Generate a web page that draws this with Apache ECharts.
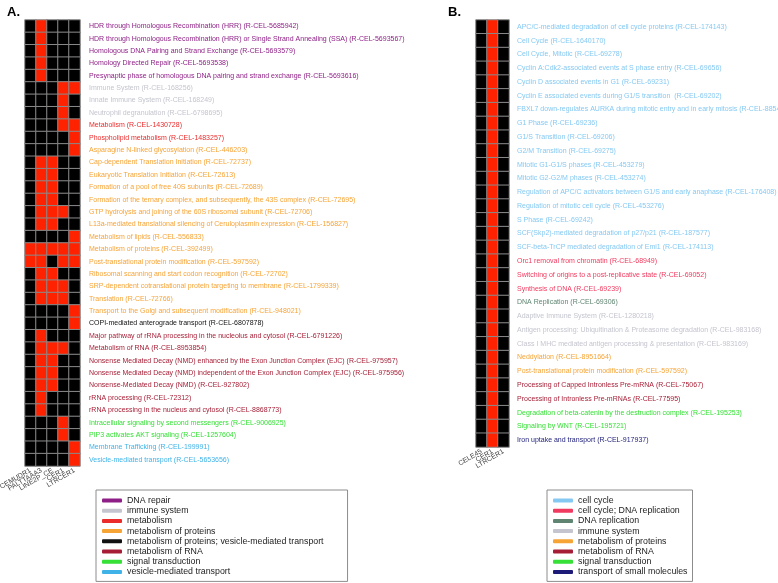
<!DOCTYPE html>
<html>
<head>
<meta charset="utf-8">
<script src="https://cdn.jsdelivr.net/npm/echarts@6/dist/echarts.min.js"></script>
<style>html,body{margin:0;padding:0;background:#fff}#c{width:778px;height:583px}</style>
</head>
<body>
<div id="c"></div>
<script>
// ---------- Panel A data ----------
const colsA = ['CEMUDR1', 'PALTTAAA3', 'LINE2P_CE', 'CER1', 'LTRCER1'];
const rowsA = [
  'HDR through Homologous Recombination (HRR) (R-CEL-5685942)',
  'HDR through Homologous Recombination (HRR) or Single Strand Annealing (SSA) (R-CEL-5693567)',
  'Homologous DNA Pairing and Strand Exchange (R-CEL-5693579)',
  'Homology Directed Repair (R-CEL-5693538)',
  'Presynaptic phase of homologous DNA pairing and strand exchange (R-CEL-5693616)',
  'Immune System (R-CEL-168256)',
  'Innate Immune System (R-CEL-168249)',
  'Neutrophil degranulation (R-CEL-6798695)',
  'Metabolism (R-CEL-1430728)',
  'Phospholipid metabolism (R-CEL-1483257)',
  'Asparagine N-linked glycosylation (R-CEL-446203)',
  'Cap-dependent Translation Initiation (R-CEL-72737)',
  'Eukaryotic Translation Initiation (R-CEL-72613)',
  'Formation of a pool of free 40S subunits (R-CEL-72689)',
  'Formation of the ternary complex, and subsequently, the 43S complex (R-CEL-72695)',
  'GTP hydrolysis and joining of the 60S ribosomal subunit (R-CEL-72706)',
  'L13a-mediated translational silencing of Ceruloplasmin expression (R-CEL-156827)',
  'Metabolism of lipids (R-CEL-556833)',
  'Metabolism of proteins (R-CEL-392499)',
  'Post-translational protein modification (R-CEL-597592)',
  'Ribosomal scanning and start codon recognition (R-CEL-72702)',
  'SRP-dependent cotranslational protein targeting to membrane (R-CEL-1799339)',
  'Translation (R-CEL-72766)',
  'Transport to the Golgi and subsequent modification (R-CEL-948021)',
  'COPI-mediated anterograde transport (R-CEL-6807878)',
  'Major pathway of rRNA processing in the nucleolus and cytosol (R-CEL-6791226)',
  'Metabolism of RNA (R-CEL-8953854)',
  'Nonsense Mediated Decay (NMD) enhanced by the Exon Junction Complex (EJC) (R-CEL-975957)',
  'Nonsense Mediated Decay (NMD) independent of the Exon Junction Complex (EJC) (R-CEL-975956)',
  'Nonsense-Mediated Decay (NMD) (R-CEL-927802)',
  'rRNA processing (R-CEL-72312)',
  'rRNA processing in the nucleus and cytosol (R-CEL-8868773)',
  'Intracellular signaling by second messengers (R-CEL-9006925)',
  'PIP3 activates AKT signaling (R-CEL-1257604)',
  'Membrane Trafficking (R-CEL-199991)',
  'Vesicle-mediated transport (R-CEL-5653656)'
];
const groupA = [
  'DNA repair','DNA repair','DNA repair','DNA repair','DNA repair',
  'immune system','immune system','immune system',
  'metabolism','metabolism',
  'metabolism of proteins','metabolism of proteins','metabolism of proteins','metabolism of proteins',
  'metabolism of proteins','metabolism of proteins','metabolism of proteins','metabolism of proteins',
  'metabolism of proteins','metabolism of proteins','metabolism of proteins','metabolism of proteins',
  'metabolism of proteins','metabolism of proteins',
  'metabolism of proteins; vesicle-mediated transport',
  'metabolism of RNA','metabolism of RNA','metabolism of RNA','metabolism of RNA',
  'metabolism of RNA','metabolism of RNA','metabolism of RNA',
  'signal transduction','signal transduction',
  'vesicle-mediated transport','vesicle-mediated transport'
];
// 1 = enriched (red), 0 = not (black); one row per pathway, one column per element
const valuesA = [
  [0,1,0,0,0],[0,1,0,0,0],[0,1,0,0,0],[0,1,0,0,0],[0,1,0,0,0],
  [0,0,0,1,1],[0,0,0,1,0],[0,0,0,1,0],[0,0,0,1,1],[0,0,0,0,1],
  [0,0,0,0,1],[0,1,1,0,0],[0,1,1,0,0],[0,1,1,0,0],[0,1,1,0,0],
  [0,1,1,1,0],[0,1,1,0,0],[0,0,0,0,1],[1,1,1,1,1],[1,1,0,1,1],
  [0,1,1,0,0],[0,1,1,1,0],[0,1,1,1,0],[0,0,0,0,1],[0,0,0,0,1],
  [0,1,0,0,0],[0,1,1,1,0],[0,1,1,0,0],[0,1,1,0,0],[0,1,1,0,0],
  [0,1,0,0,0],[0,1,0,0,0],[0,0,0,1,0],[0,0,0,1,0],[0,0,0,0,1],
  [0,0,0,0,1]
];

// ---------- Panel B data ----------
const colsB = ['CELE45', 'CER1', 'LTRCER1'];
const rowsB = [
  'APC/C-mediated degradation of cell cycle proteins (R-CEL-174143)',
  'Cell Cycle (R-CEL-1640170)',
  'Cell Cycle, Mitotic (R-CEL-69278)',
  'Cyclin A:Cdk2-associated events at S phase entry (R-CEL-69656)',
  'Cyclin D associated events in G1 (R-CEL-69231)',
  'Cyclin E associated events during G1/S transition  (R-CEL-69202)',
  'FBXL7 down-regulates AURKA during mitotic entry and in early mitosis (R-CEL-8854050)',
  'G1 Phase (R-CEL-69236)',
  'G1/S Transition (R-CEL-69206)',
  'G2/M Transition (R-CEL-69275)',
  'Mitotic G1-G1/S phases (R-CEL-453279)',
  'Mitotic G2-G2/M phases (R-CEL-453274)',
  'Regulation of APC/C activators between G1/S and early anaphase (R-CEL-176408)',
  'Regulation of mitotic cell cycle (R-CEL-453276)',
  'S Phase (R-CEL-69242)',
  'SCF(Skp2)-mediated degradation of p27/p21 (R-CEL-187577)',
  'SCF-beta-TrCP mediated degradation of Emi1 (R-CEL-174113)',
  'Orc1 removal from chromatin (R-CEL-68949)',
  'Switching of origins to a post-replicative state (R-CEL-69052)',
  'Synthesis of DNA (R-CEL-69239)',
  'DNA Replication (R-CEL-69306)',
  'Adaptive Immune System (R-CEL-1280218)',
  'Antigen processing: Ubiquitination & Proteasome degradation (R-CEL-983168)',
  'Class I MHC mediated antigen processing & presentation (R-CEL-983169)',
  'Neddylation (R-CEL-8951664)',
  'Post-translational protein modification (R-CEL-597592)',
  'Processing of Capped Intronless Pre-mRNA (R-CEL-75067)',
  'Processing of Intronless Pre-mRNAs (R-CEL-77595)',
  'Degradation of beta-catenin by the destruction complex (R-CEL-195253)',
  'Signaling by WNT (R-CEL-195721)',
  'Iron uptake and transport (R-CEL-917937)'
];
const groupB = [
  'cell cycle','cell cycle','cell cycle','cell cycle','cell cycle','cell cycle','cell cycle',
  'cell cycle','cell cycle','cell cycle','cell cycle','cell cycle','cell cycle','cell cycle',
  'cell cycle','cell cycle','cell cycle',
  'cell cycle; DNA replication','cell cycle; DNA replication','cell cycle; DNA replication',
  'DNA replication',
  'immune system','immune system','immune system',
  'metabolism of proteins','metabolism of proteins',
  'metabolism of RNA','metabolism of RNA',
  'signal transduction','signal transduction',
  'transport of small molecules'
];
const valuesB = rowsB.map(() => [0,1,0]); // CER1 enriched for every pathway

// ---------- legend lists ----------
const legendA = ['DNA repair','immune system','metabolism','metabolism of proteins',
  'metabolism of proteins; vesicle-mediated transport','metabolism of RNA',
  'signal transduction','vesicle-mediated transport'];
const legendB = ['cell cycle','cell cycle; DNA replication','DNA replication','immune system',
  'metabolism of proteins','metabolism of RNA','signal transduction','transport of small molecules'];

// ---------- styles ----------
const groupColor = {
  'DNA repair': '#8e1f86',
  'immune system': '#c4c5cf',
  'metabolism': '#ea2c2c',
  'metabolism of proteins': '#f7a436',
  'metabolism of proteins; vesicle-mediated transport': '#111111',
  'metabolism of RNA': '#a61e35',
  'signal transduction': '#36e036',
  'vesicle-mediated transport': '#3fb3e8',
  'cell cycle': '#85c9f2',
  'cell cycle; DNA replication': '#f03a5f',
  'DNA replication': '#5f8471',
  'transport of small molecules': '#1c1c78'
};
const FONT = 'Liberation Sans, Arial, sans-serif';

function toCells(values) {
  const out = [];
  values.forEach((row, r) => row.forEach((v, c) => out.push([c, r, v])));
  return out;
}

const legendSeries = Object.keys(groupColor).map(name => ({
  name: name, type: 'line', data: [], xAxisIndex: 0, yAxisIndex: 0,
  color: groupColor[name], itemStyle: {color: groupColor[name]}, lineStyle: {color: groupColor[name]}
}));

const chart = echarts.init(document.getElementById('c'), null, {width: 778, height: 583});
const legendCommon = {
  orient: 'vertical', icon: 'roundRect', itemWidth: 20, itemHeight: 4, itemGap: 1.2,
  selectedMode: false, borderColor: '#8c8c8c', borderWidth: 1,
  textStyle: {fontSize: 8.8, color: '#222', fontFamily: FONT}
};
chart.setOption({
  animation: false,
  textStyle: {fontFamily: FONT},
  title: [
    {text: 'A.', left: 2, top: 1, textStyle: {fontSize: 13, fontWeight: 'bold', color: '#000', fontFamily: FONT}},
    {text: 'B.', left: 443, top: 1, textStyle: {fontSize: 13, fontWeight: 'bold', color: '#000', fontFamily: FONT}}
  ],
  grid: [
    {left: 25, top: 20, width: 55, height: 446, containLabel: false, outerBoundsMode: 'none'},
    {left: 476, top: 20, width: 33, height: 427, containLabel: false, outerBoundsMode: 'none'}
  ],
  xAxis: [
    {type: 'category', gridIndex: 0, data: colsA, position: 'bottom',
     axisLine: {show: false}, axisTick: {show: false}, splitLine: {show: false},
     axisLabel: {rotate: 30, interval: 0, fontSize: 7, margin: 4, color: '#444'}},
    {type: 'category', gridIndex: 1, data: colsB, position: 'bottom',
     axisLine: {show: false}, axisTick: {show: false}, splitLine: {show: false},
     axisLabel: {rotate: 30, interval: 0, fontSize: 7, margin: 4, color: '#444'}}
  ],
  yAxis: [
    {type: 'category', gridIndex: 0, data: rowsA, inverse: true, position: 'right',
     axisLine: {show: false}, axisTick: {show: false}, splitLine: {show: false},
     axisLabel: {interval: 0, fontSize: 7, margin: 9, color: (v, i) => groupColor[groupA[i]]}},
    {type: 'category', gridIndex: 1, data: rowsB, inverse: true, position: 'right',
     axisLine: {show: false}, axisTick: {show: false}, splitLine: {show: false},
     axisLabel: {interval: 0, fontSize: 7, margin: 8, color: (v, i) => groupColor[groupB[i]]}}
  ],
  visualMap: {
    type: 'piecewise', show: false, seriesIndex: [0, 1], dimension: 2,
    pieces: [{value: 0, color: '#000000'}, {value: 1, color: '#ff2200'}]
  },
  legend: [
    Object.assign({}, legendCommon, {data: legendA, left: 96, top: 490, padding: [6, 24, 5, 6]}),
    Object.assign({}, legendCommon, {data: legendB, left: 547, top: 490, padding: [6, 5, 5, 6]})
  ],
  series: [
    {type: 'heatmap', xAxisIndex: 0, yAxisIndex: 0, data: toCells(valuesA),
     itemStyle: {borderColor: '#8a8a8a', borderWidth: 1}, emphasis: {disabled: true}},
    {type: 'heatmap', xAxisIndex: 1, yAxisIndex: 1, data: toCells(valuesB),
     itemStyle: {borderColor: '#8a8a8a', borderWidth: 1}, emphasis: {disabled: true}}
  ].concat(legendSeries)
});
</script>
</body>
</html>
